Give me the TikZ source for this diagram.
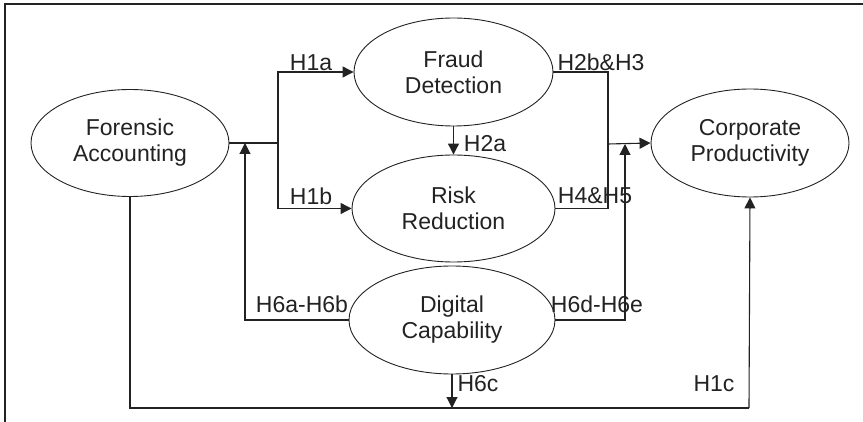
\documentclass[tikz,border=0pt]{standalone}
\usepackage{fontspec}
\setmainfont{Liberation Sans}
\usetikzlibrary{shapes.geometric,arrows.meta}
\definecolor{ink}{HTML}{222222}
\begin{document}
\begin{tikzpicture}[x=1pt,y=-1pt,
  lbl/.style={font=\fontsize{23}{26}\selectfont, text=ink},
  construct/.style={ellipse, draw=ink, line width=0.9pt, inner sep=0pt,
    align=center, lbl},
  link/.style={draw=ink, line width=1.1pt},
  arr/.style={link, -{Triangle[length=11pt,width=11pt]}},
  hyp/.style={lbl, inner sep=0pt}]
\useasboundingbox (0,0) rectangle (863,422);

% open frame: top and left edges only
\draw[ink, line width=1.8pt] (863,4) -- (5,4) -- (5,422);

% constructs
\node[construct, minimum width=198pt, minimum height=107pt] (fa) at (130,143) {Forensic\\Accounting};
\node[construct, minimum width=199pt, minimum height=108pt] (fd) at (453.5,72) {Fraud\\Detection};
\node[construct, minimum width=203pt, minimum height=107pt] (rr) at (453.5,208.5) {Risk\\Reduction};
\node[construct, minimum width=206pt, minimum height=108pt] (dc) at (452,320) {Digital\\Capability};
\node[construct, minimum width=198pt, minimum height=108pt] (cp) at (750,143) {Corporate\\Productivity};

% junction points
\coordinate (jl) at (278,143);
\coordinate (jr) at (608,144);
\coordinate (jm) at (245,143);
\coordinate (jd) at (625,144);
\coordinate (bl) at (130,408);
\coordinate (br) at (749,408);
\coordinate (bm) at (452,408);

% forensic accounting -> mediators
\draw[link] (fa.east) -- (jl);
\draw[arr] (jl) |- (fd.west);
\draw[arr] (jl) |- (rr.west);

% fraud detection -> risk reduction
\draw[arr] (fd.south) -- (rr.north);

% mediators -> corporate productivity
\draw[link] (fd.east) -| (jr);
\draw[link] (rr.east) -| (jr);
\draw[arr] (jr) -- (cp.west);

% digital capability moderation
\draw[arr] (dc.west) -| (jm);
\draw[arr] (dc.east) -| (jd);
\draw[arr] (dc.south) -- (bm);

% direct effect
\draw[link] (fa.south) -- (bl) -- (br);
\draw[arr] (br) -- (cp.south);

% hypothesis labels
\node[hyp] (h1a) at (311,63) {H1a};
\node[hyp] (h1b) at (311,196) {H1b};
\node[hyp] (h2a) at (485,144) {H2a};
\node[hyp] (h2b) at (601,62) {H2b\&H3};
\node[hyp] (h4) at (595,196) {H4\&H5};
\node[hyp] (h6a) at (302,304) {H6a-H6b};
\node[hyp] (h6d) at (597,304) {H6d-H6e};
\node[hyp] (h6c) at (478,384) {H6c};
\node[hyp] (h1c) at (714,384) {H1c};
\end{tikzpicture}
\end{document}
